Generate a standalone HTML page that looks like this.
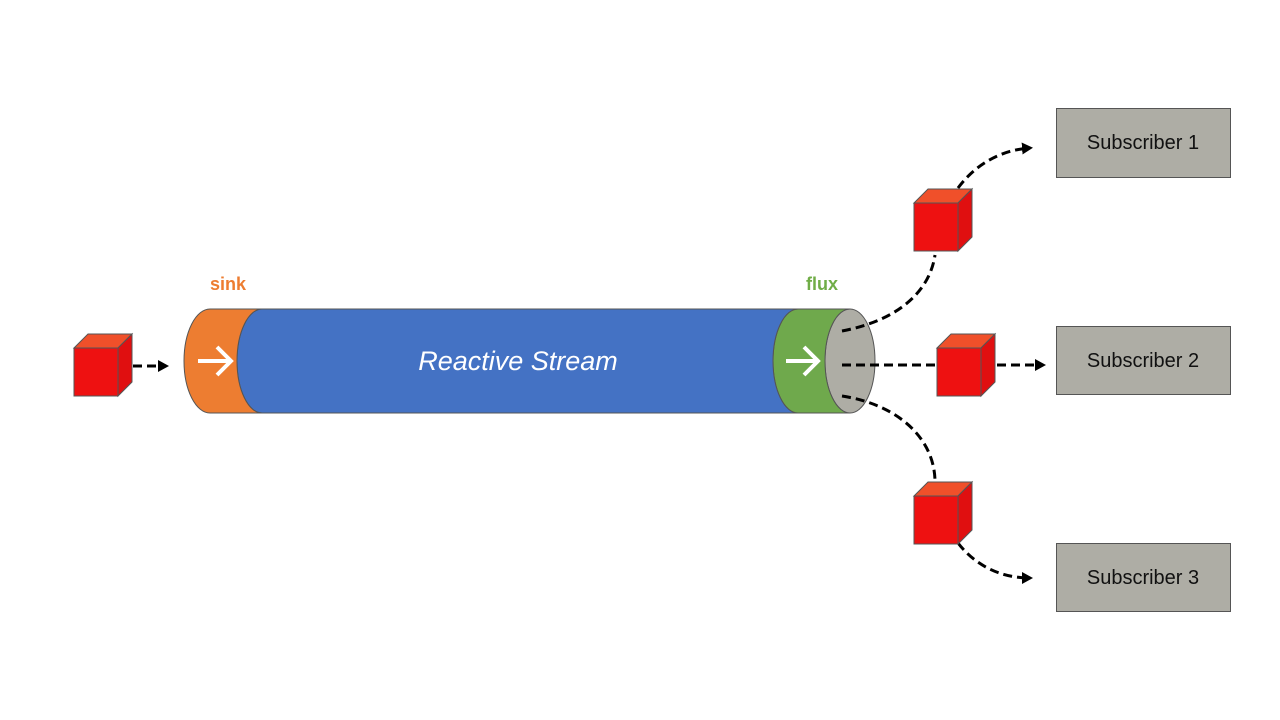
<!DOCTYPE html>
<html><head><meta charset="utf-8"><style>
body{margin:0;background:#fff;}
svg{display:block;font-family:"Liberation Sans",sans-serif;}
</style></head><body>
<svg width="1280" height="720" viewBox="0 0 1280 720" xmlns="http://www.w3.org/2000/svg">
<defs>
<marker id="ah" markerWidth="12" markerHeight="12" refX="8" refY="6" orient="auto" markerUnits="userSpaceOnUse">
<path d="M0,0 L11,6 L0,12 z" fill="#000"/>
</marker>
<g id="cube">
<path d="M0,14 L14,0 L58,0 L44,14 z" fill="#f0502a" stroke="#555" stroke-width="1"/>
<path d="M44,14 L58,0 L58,48 L44,62 z" fill="#e00f10" stroke="#555" stroke-width="1"/>
<rect x="0" y="14" width="44" height="48" fill="#ee1111" stroke="#555" stroke-width="1"/>
</g>
</defs>
<ellipse cx="850" cy="361" rx="25" ry="52" fill="#aeada5" stroke="#555" stroke-width="1"/>
<path d="M798,309 L850,309 A25,52 0 0,0 850,413 L798,413 A25,52 0 0,1 798,309 z" fill="#6fa94c" stroke="#555" stroke-width="1"/>
<path d="M262,309 L798,309 A25,52 0 0,0 798,413 L262,413 A25,52 0 0,1 262,309 z" fill="#4472c4" stroke="#555" stroke-width="1"/>
<path d="M210,309 L262,309 A25,52 0 0,0 262,413 L210,413 A26,52 0 0,1 210,309 z" fill="#ed7d31" stroke="#555" stroke-width="1"/>
<g stroke="#fff" stroke-width="4" fill="none">
<path d="M198,361 L230,361 M217,347 L231,361 L217,375"/>
<path d="M786,361 L817,361 M804,347 L818,361 L804,375"/>
</g>
<text x="518" y="370" font-size="27" font-style="italic" fill="#fff" text-anchor="middle">Reactive Stream</text>
<text x="228" y="290" font-size="18" font-weight="bold" fill="#ed7d31" text-anchor="middle">sink</text>
<text x="822" y="290" font-size="18" font-weight="bold" fill="#70ad47" text-anchor="middle">flux</text>
<g stroke="#000" stroke-width="3" fill="none" stroke-dasharray="9,5">
<path d="M133,366 L166,366" marker-end="url(#ah)"/>
<path d="M842,331 C900,320 930,290 935,255"/>
<path d="M958,188 C975,165 1000,150 1030,148" marker-end="url(#ah)"/>
<path d="M842,365 L936,365"/>
<path d="M997,365 L1043,365" marker-end="url(#ah)"/>
<path d="M842,396 C900,405 935,440 935,482"/>
<path d="M958,543 C975,565 1000,578 1030,578" marker-end="url(#ah)"/>
</g>
<use href="#cube" x="74" y="334"/>
<use href="#cube" x="914" y="189"/>
<use href="#cube" x="937" y="334"/>
<use href="#cube" x="914" y="482"/>
<g fill="#aeada5" stroke="#555" stroke-width="1">
<rect x="1056.5" y="108.5" width="174" height="69"/>
<rect x="1056.5" y="326.5" width="174" height="68"/>
<rect x="1056.5" y="543.5" width="174" height="68"/>
</g>
<g font-size="20" fill="#111" text-anchor="middle">
<text x="1143" y="149">Subscriber 1</text>
<text x="1143" y="367">Subscriber 2</text>
<text x="1143" y="584">Subscriber 3</text>
</g>
</svg>
</body></html>
